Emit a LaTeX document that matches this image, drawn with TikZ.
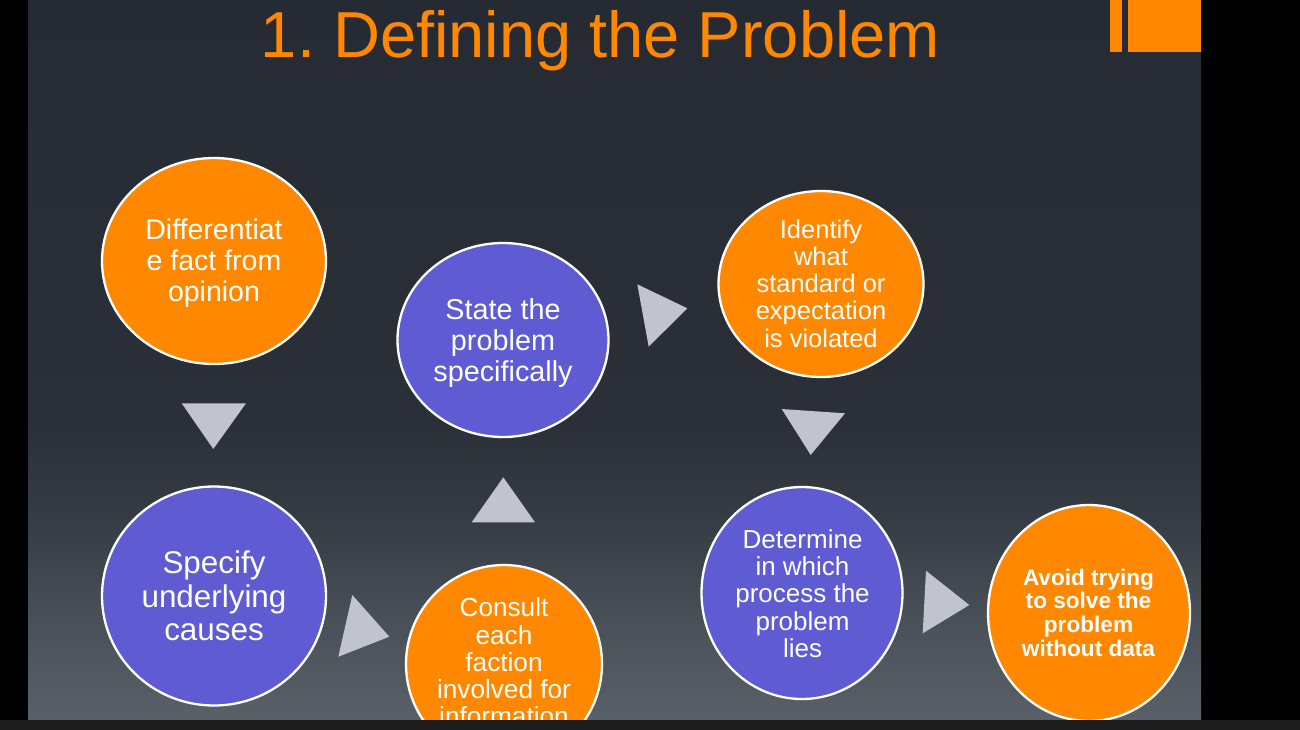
\documentclass[tikz,border=0pt]{standalone}
\usepackage{fontspec}
\setmainfont{Liberation Sans}
\usetikzlibrary{shapes.geometric}
\frenchspacing

\definecolor{accent}{HTML}{FF8800}
\definecolor{violetfill}{HTML}{5F5BD2}
\definecolor{pointer}{HTML}{C1C4CC}
\definecolor{strip}{HTML}{1C1C1C}
\definecolor{bgtop}{HTML}{262B33}
\definecolor{bghigh}{HTML}{2B3038}
\definecolor{bgmid}{HTML}{363C44}
\definecolor{bglow}{HTML}{4A5058}
\definecolor{bgbot}{HTML}{5A6068}

% slide background: dark at the top, lighter towards the bottom
\pgfdeclareverticalshading{slidebg}{100bp}{%
  color(0bp)=(bgbot); color(25bp)=(bgbot); color(31.9bp)=(bglow);
  color(38.9bp)=(bgmid); color(45.8bp)=(bghigh); color(75bp)=(bgtop);
  color(100bp)=(bgtop)}

\tikzset{
  bubble/.style={ellipse, draw=white, line width=2.3pt, inner sep=0pt},
  warm/.style={bubble, fill=accent},
  cool/.style={bubble, fill=violetfill},
  txt/.style={text=white, align=center, inner sep=0pt},
  pointerfill/.style={fill=pointer},
}

\begin{document}
\begin{tikzpicture}[x=1pt,y=-1pt]
\useasboundingbox (0,0) rectangle (1300,729);
\clip (0,0) rectangle (1300,729);
\fill[black] (0,0) rectangle (1300,729);
\fill[shading=slidebg] (28,0) rectangle (1201,720);

% corner ornament
\fill[accent] (1110,0) rectangle (1122,52);
\fill[accent] (1128,0) rectangle (1201,52);

% heading
\node[anchor=base, text=accent, inner sep=0pt, font=\fontsize{65}{78}\selectfont]
  (title) at (600.5,57) {1. Defining the Problem};

% bubbles
\node[warm, minimum width=224pt, minimum height=206pt] (c1) at (214,261) {};
\node[cool, minimum width=224pt, minimum height=219pt] (c2) at (214,596) {};
\node[warm, minimum width=196pt, minimum height=198pt] (c3) at (504,664) {};
\node[cool, minimum width=211pt, minimum height=194pt] (c4) at (503,340) {};
\node[warm, minimum width=205pt, minimum height=186pt] (c5) at (821,284) {};
\node[cool, minimum width=201pt, minimum height=212pt] (c6) at (802,593) {};
\node[warm, minimum width=202pt, minimum height=216pt] (c7) at (1089,613) {};

% bubble texts
\node[txt, font=\fontsize{28.5}{31}\selectfont] (t1) at (214,263)
  {Differentiat\\e fact from\\opinion};
\node[txt, font=\fontsize{31.4}{33.5}\selectfont] (t2) at (214,596)
  {Specify\\underlying\\causes};
\node[txt, font=\fontsize{26.2}{27.3}\selectfont] (t3) at (504,662)
  {Consult\\each\\faction\\involved for\\information};
\node[txt, font=\fontsize{28.8}{31}\selectfont] (t4) at (503,342.9)
  {State the\\problem\\specifically};
\node[txt, font=\fontsize{25.5}{27.3}\selectfont] (t5) at (821,283.5)
  {Identify\\what\\standard or\\expectation\\is violated};
\node[txt, font=\fontsize{26}{27.3}\selectfont] (t6) at (802.5,593.6)
  {Determine\\in which\\process the\\problem\\lies};
\node[txt, font=\bfseries\fontsize{22.6}{23.7}\selectfont] (t7) at (1088.5,612.5)
  {Avoid trying\\to solve the\\problem\\without data};

% pointers between the steps
\fill[pointerfill] (181.7,403.3) -- (246,403.3) -- (213.3,449) -- cycle;
\fill[pointerfill] (352.3,595) -- (389.3,636.7) -- (338.3,656.7) -- cycle;
\fill[pointerfill] (503.3,477.3) -- (535,522.3) -- (471.7,522.3) -- cycle;
\fill[pointerfill] (637.3,284.3) -- (687.3,308.3) -- (648.7,346.7) -- cycle;
\fill[pointerfill] (781.7,409) -- (845,413.3) -- (810.7,455) -- cycle;
\fill[pointerfill] (926,570.7) -- (969.3,605) -- (922.7,633.3) -- cycle;

% bottom bar
\fill[strip] (-5,720) rectangle (1305,740);
\end{tikzpicture}
\end{document}
